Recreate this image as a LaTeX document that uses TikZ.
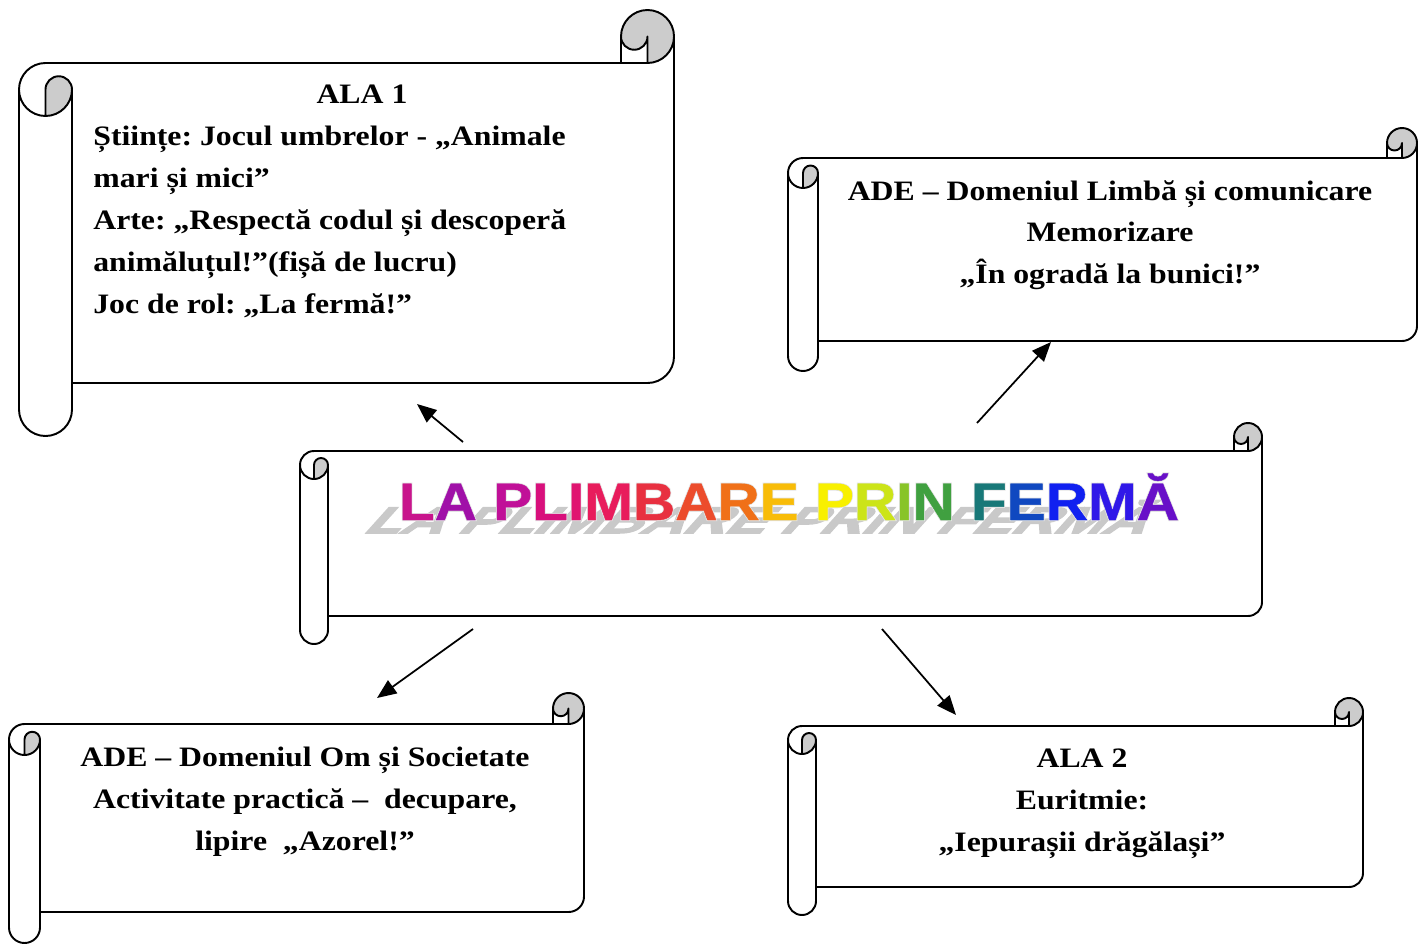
\documentclass[tikz,border=0pt]{standalone}
\usepackage{fontspec}
\setmainfont{Liberation Serif}[FakeStretch=1.13]
\newfontfamily\wordartfont{Liberation Sans}[FakeStretch=1.11, FakeBold=0.8]
\newfontfamily\wordartrim{Liberation Sans}[FakeStretch=1.11, FakeBold=4]
\usetikzlibrary{arrows.meta}
\frenchspacing

% letter colours of the title
\definecolor{waA}{HTML}{C8148C}
\definecolor{waB}{HTML}{A010A8}
\definecolor{waC}{HTML}{C01098}
\definecolor{waD}{HTML}{D8107C}
\definecolor{waE}{HTML}{E01470}
\definecolor{waF}{HTML}{E81C5C}
\definecolor{waG}{HTML}{E83040}
\definecolor{waH}{HTML}{EC4C2C}
\definecolor{waI}{HTML}{F07018}
\definecolor{waJ}{HTML}{F8BC08}
\definecolor{waK}{HTML}{F8F000}
\definecolor{waL}{HTML}{CCE418}
\definecolor{waM}{HTML}{88C428}
\definecolor{waN}{HTML}{40A040}
\definecolor{waO}{HTML}{187878}
\definecolor{waP}{HTML}{1048C0}
\definecolor{waQ}{HTML}{1020F0}
\definecolor{waR}{HTML}{3018E8}
\definecolor{waS}{HTML}{6810C8}

% scroll: x, y (top left), width, height, curl size
\newcommand{\scrollbox}[5]{%
  \begin{scope}[shift={(#1,#2)}]
  \pgfmathsetmacro{\scW}{#3}\pgfmathsetmacro{\scH}{#4}
  \pgfmathsetmacro{\scC}{#5}\pgfmathsetmacro{\scD}{#5/2}\pgfmathsetmacro{\scQ}{#5/4}
  \fill[curl] (\scD,2*\scC) arc[start angle=90, delta angle=-90, radius=\scD] arc[start angle=0, delta angle=-180, radius=\scQ] -- cycle;
  \fill[curl] (\scW-\scD,\scC) arc[start angle=90, delta angle=-270, radius=\scD] arc[start angle=180, delta angle=-180, radius=\scQ] -- cycle;
  \draw[scrollline] (0,1.5*\scC) arc[start angle=180, delta angle=90, radius=\scD] -- (\scW-\scC,\scC) -- (\scW-\scC,\scD) arc[start angle=180, delta angle=180, radius=\scD] -- (\scW,\scH-1.5*\scC) arc[start angle=0, delta angle=90, radius=\scD] -- (\scC,\scH-\scC) -- (\scC,\scH-\scD) arc[start angle=0, delta angle=180, radius=\scD] -- cycle;
  \draw[scrollline] (\scW-\scC,\scC) -- (\scW-\scD,\scC) arc[start angle=90, delta angle=-90, radius=\scD];
  \draw[scrollline] (\scW-\scD,\scC) -- (\scW-\scD,\scD) arc[start angle=0, delta angle=180, radius=\scQ];
  \draw[scrollline] (\scD,2*\scC) -- (\scD,1.5*\scC) arc[start angle=180, delta angle=180, radius=\scQ] arc[start angle=0, delta angle=180, radius=\scD];
  \draw[scrollline] (\scC,1.5*\scC) -- (\scC,\scH-\scC);
  \end{scope}}

\begin{document}
\begin{tikzpicture}[x=0.02cm,y=-0.02cm,curl/.style={fill=gray!40},scrollline/.style={line width=1.1pt, line join=round},txt/.style={font=\bfseries\fontsize{16}{23.8}\selectfont, inner sep=0pt, align=center},link/.style={line width=1pt, -{Triangle[length=11pt, width=9pt]}},wordart/.style={font=\wordartfont\bfseries\fontsize{30}{36}\selectfont, inner sep=0pt}]
\useasboundingbox (0,0) rectangle (1425,943);
% the five scrolls
\scrollbox{19}{10}{655}{426}{53}
\scrollbox{788}{128}{629}{243}{30}
\scrollbox{300}{423}{962}{221}{28}
\scrollbox{9}{693}{575}{250}{31}
\scrollbox{788}{698}{575}{217}{28}

% texts
\node[txt, anchor=base] (ala1head) at (362,103) {ALA 1};
\node[txt, anchor=north west, align=left] (ala1body) at (93,126) {Științe: Jocul umbrelor - „Animale\\mari și mici”\\Arte: „Respectă codul și descoperă\\animăluțul!”(fișă de lucru)\\Joc de rol: „La fermă!”};
\node[txt, anchor=north] (adelimba) at (1110,180) {ADE – Domeniul Limbă și comunicare\\Memorizare\\„În ogradă la bunici!”};
\node[txt, anchor=north] (adeom) at (305,747) {ADE – Domeniul Om și Societate\\Activitate practică –\ \ decupare,\\lipire\ \ „Azorel!”};
\node[txt, anchor=north] (ala2) at (1082,749) {ALA 2\\Euritmie:\\„Iepurașii drăgălași”};

% title with its shadow and light rim
\begin{scope}[shift={(362,533)}]
\node[wordart, font=\wordartrim\bfseries\fontsize{30}{36}\selectfont, text=gray!42, anchor=base west, transform shape, xslant=0.9, yscale=0.7] (titleshadow) at (0,0) {LA PLIMBARE PRIN FERMĂ};
\end{scope}
\node[wordart, font=\wordartrim\bfseries\fontsize{30}{36}\selectfont, text=gray!22, anchor=base] (titlerim) at (789,520) {LA PLIMBARE PRIN FERMĂ};
\node[wordart, anchor=base] (title) at (789,520) {\textcolor{waA}{L}\textcolor{waB}{A} \textcolor{waC}{P}\textcolor{waD}{L}\textcolor{waE}{I}\textcolor{waF}{M}\textcolor{waG}{B}\textcolor{waH}{A}\textcolor{waI}{R}\textcolor{waJ}{E} \textcolor{waK}{P}\textcolor{waL}{R}\textcolor{waM}{I}\textcolor{waN}{N} \textcolor{waO}{F}\textcolor{waP}{E}\textcolor{waQ}{R}\textcolor{waR}{M}\textcolor{waS}{Ă}};

% arrows
\coordinate (ala1tail) at (463,442); \coordinate (ala1tip) at (417,404);
\coordinate (limbatail) at (977,423); \coordinate (limbatip) at (1051,342);
\coordinate (omtail) at (473,629); \coordinate (omtip) at (377,698);
\coordinate (ala2tail) at (882,629); \coordinate (ala2tip) at (956,715);
\draw[link] (ala1tail) -- (ala1tip);
\draw[link] (limbatail) -- (limbatip);
\draw[link] (omtail) -- (omtip);
\draw[link] (ala2tail) -- (ala2tip);
\end{tikzpicture}
\end{document}
